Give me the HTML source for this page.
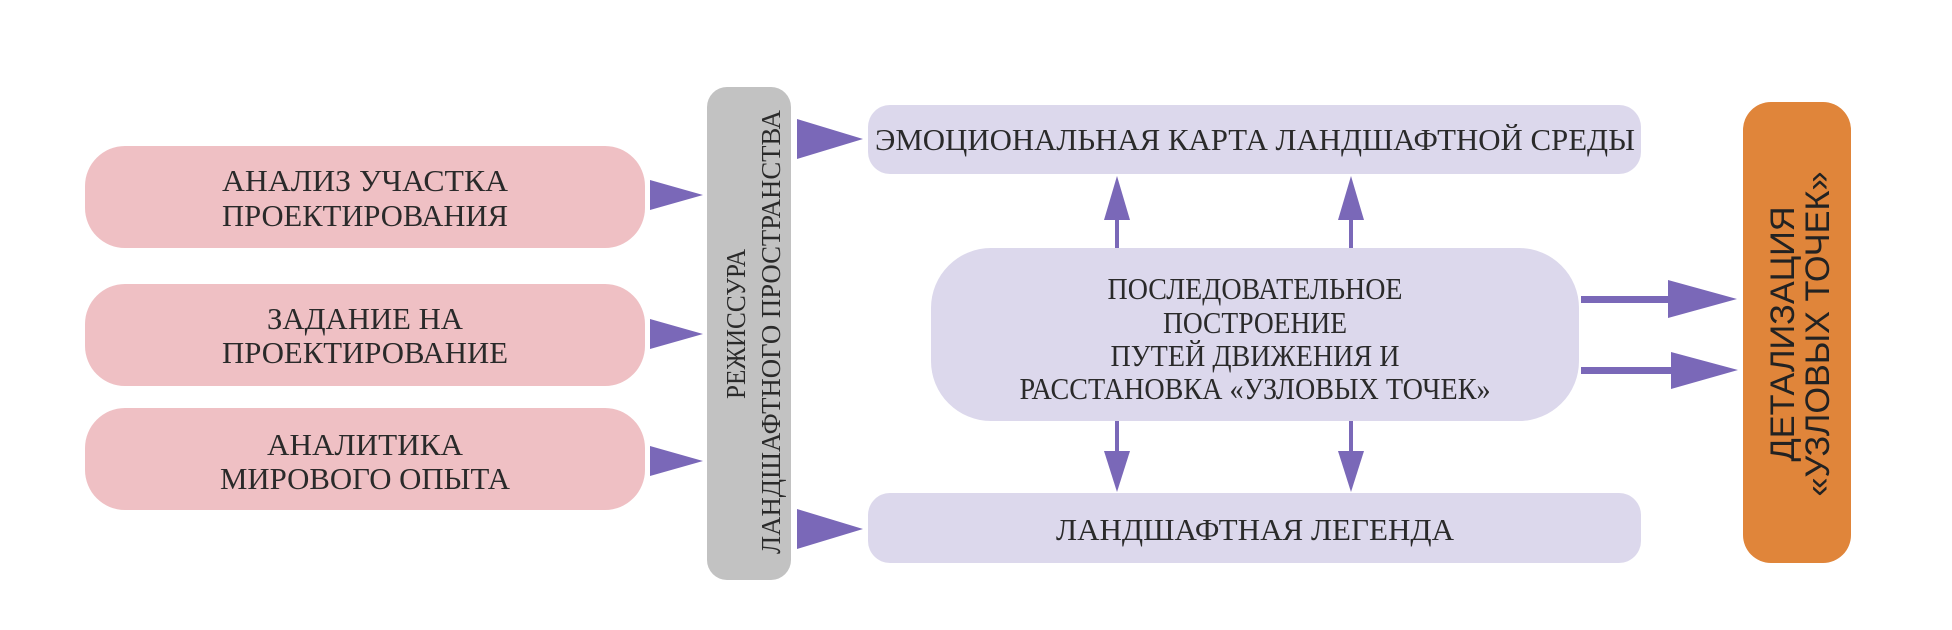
<!DOCTYPE html>
<html><head><meta charset="utf-8"><style>html,body{margin:0;padding:0;background:#fff}svg{display:block}</style></head><body>
<svg width="1952" height="630" viewBox="0 0 1952 630" xmlns="http://www.w3.org/2000/svg" font-family="'Liberation Serif', serif" fill="#2a2a2a">
<rect x="85" y="146" width="560" height="102" rx="40" fill="#efc0c4"/>
<rect x="85" y="284" width="560" height="102" rx="40" fill="#efc0c4"/>
<rect x="85" y="408" width="560" height="102" rx="40" fill="#efc0c4"/>
<rect x="707" y="87" width="84" height="493" rx="20" fill="#c2c2c2"/>
<rect x="868" y="105" width="773" height="69" rx="22" fill="#dcd8ec"/>
<rect x="931" y="248" width="648" height="173" rx="60" fill="#dcd8ec"/>
<rect x="868" y="493" width="773" height="70" rx="22" fill="#dcd8ec"/>
<rect x="1743" y="102" width="108" height="461" rx="28" fill="#e0853a"/>
<g fill="#7a68b8">
<path d="M650,180 L703,195 L650,210z"/>
<path d="M650,319 L703,334 L650,349z"/>
<path d="M650,446 L703,461 L650,476z"/>
<path d="M797,119 L863,139 L797,159z"/>
<path d="M797,509 L863,529 L797,549z"/>
<rect x="1115" y="210" width="4" height="38"/><path d="M1104,220 L1117,176 L1130,220z"/>
<rect x="1349" y="210" width="4" height="38"/><path d="M1338,220 L1351,176 L1364,220z"/>
<rect x="1115" y="421" width="4" height="40"/><path d="M1104,451 L1117,492 L1130,451z"/>
<rect x="1349" y="421" width="4" height="40"/><path d="M1338,451 L1351,492 L1364,451z"/>
<rect x="1581" y="296" width="90" height="7"/><path d="M1668,280 L1737,299 L1668,318z"/>
<rect x="1581" y="367" width="90" height="7"/><path d="M1671,352 L1738,370 L1671,389z"/>
</g>
<g font-size="31" text-anchor="middle">
<text x="365" y="191" textLength="286" lengthAdjust="spacingAndGlyphs">АНАЛИЗ УЧАСТКА</text>
<text x="365" y="226" textLength="286" lengthAdjust="spacingAndGlyphs">ПРОЕКТИРОВАНИЯ</text>
<text x="365" y="329" textLength="196" lengthAdjust="spacingAndGlyphs">ЗАДАНИЕ НА</text>
<text x="365" y="363" textLength="286" lengthAdjust="spacingAndGlyphs">ПРОЕКТИРОВАНИЕ</text>
<text x="365" y="455" textLength="196" lengthAdjust="spacingAndGlyphs">АНАЛИТИКА</text>
<text x="365" y="489" textLength="290" lengthAdjust="spacingAndGlyphs">МИРОВОГО ОПЫТА</text>
<text x="1255" y="150" textLength="760" lengthAdjust="spacingAndGlyphs">ЭМОЦИОНАЛЬНАЯ КАРТА ЛАНДШАФТНОЙ СРЕДЫ</text>
<text x="1255" y="299" textLength="295" lengthAdjust="spacingAndGlyphs">ПОСЛЕДОВАТЕЛЬНОЕ</text>
<text x="1255" y="333" textLength="184" lengthAdjust="spacingAndGlyphs">ПОСТРОЕНИЕ</text>
<text x="1255" y="366" textLength="289" lengthAdjust="spacingAndGlyphs">ПУТЕЙ ДВИЖЕНИЯ И</text>
<text x="1255" y="399" textLength="471" lengthAdjust="spacingAndGlyphs">РАССТАНОВКА «УЗЛОВЫХ ТОЧЕК»</text>
<text x="1255" y="540" textLength="398" lengthAdjust="spacingAndGlyphs">ЛАНДШАФТНАЯ ЛЕГЕНДА</text>
</g>
<g font-size="27" text-anchor="middle">
<text transform="translate(745,324) rotate(-90)" textLength="150" lengthAdjust="spacingAndGlyphs">РЕЖИССУРА</text>
<text transform="translate(780,332) rotate(-90)" textLength="444" lengthAdjust="spacingAndGlyphs">ЛАНДШАФТНОГО ПРОСТРАНСТВА</text>
</g>
<g font-size="34" font-family="'Liberation Sans', sans-serif" text-anchor="middle" fill="#222">
<text transform="translate(1794,334) rotate(-90)" textLength="255" lengthAdjust="spacingAndGlyphs">ДЕТАЛИЗАЦИЯ</text>
<text transform="translate(1829,334) rotate(-90)" textLength="325" lengthAdjust="spacingAndGlyphs">«УЗЛОВЫХ ТОЧЕК»</text>
</g>
</svg>
</body></html>
